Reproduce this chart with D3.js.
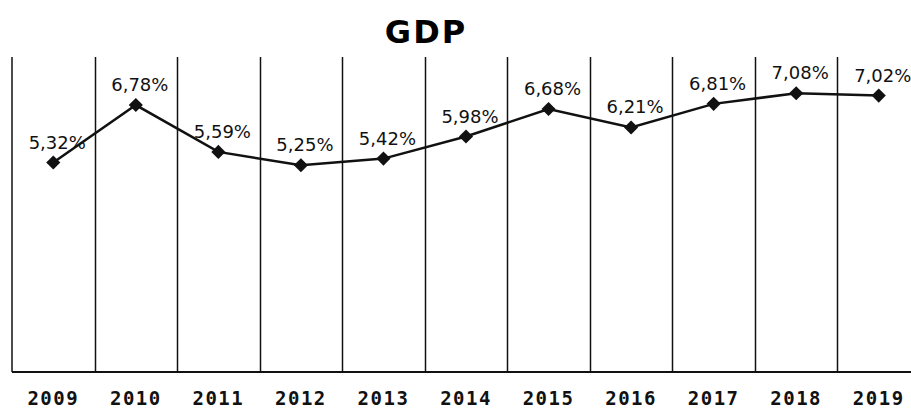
<!DOCTYPE html>
<html>
<head>
<meta charset="utf-8">
<script src="https://cdn.jsdelivr.net/npm/d3@7"></script>
<style>
  body { margin: 0; background: #fff; }
  svg { display: block; }
</style>
</head>
<body>
<svg id="chart" width="911" height="408"></svg>
<script>
const years = ["2009", "2010", "2011", "2012", "2013", "2014", "2015", "2016", "2017", "2018", "2019"];
const gdp = [5.32, 6.78, 5.59, 5.25, 5.42, 5.98, 6.68, 6.21, 6.81, 7.08, 7.02];
const labels = ["5,32%", "6,78%", "5,59%", "5,25%", "5,42%", "5,98%", "6,68%", "6,21%", "6,81%", "7,08%", "7,02%"];

const data = years.map((y, i) => ({ year: y, value: gdp[i], label: labels[i] }));

const svg = d3.select("#chart");
const width = 911, height = 408;
const margin = { top: 57, left: 12, bottom: 372, right: 920 };

const x = d3.scaleBand().domain(years).range([margin.left, margin.right]).padding(0);
const y = d3.scaleLinear().domain([0, 8]).range([margin.bottom, margin.top]);

// Title
svg.append("text")
  .attr("x", 426)
  .attr("y", 43)
  .attr("text-anchor", "middle")
  .style("font-family", "'DejaVu Sans', Verdana, sans-serif")
  .style("font-weight", "bold")
  .style("font-size", "32px")
  .style("letter-spacing", "2px")
  .text("GDP");

// Vertical grid lines at category boundaries
svg.append("g")
  .selectAll("line")
  .data(years.slice(1))
  .join("line")
  .attr("x1", d => Math.round(x(d)) + 0.5)
  .attr("x2", d => Math.round(x(d)) + 0.5)
  .attr("y1", margin.top)
  .attr("y2", margin.bottom)
  .attr("stroke", "#111")
  .attr("stroke-width", 1.5);

// Left axis line
svg.append("line")
  .attr("x1", margin.left).attr("x2", margin.left)
  .attr("y1", margin.top).attr("y2", margin.bottom)
  .attr("stroke", "#111").attr("stroke-width", 1.5);

// Bottom axis
const xAxis = svg.append("g")
  .attr("transform", `translate(0,${margin.bottom})`)
  .call(d3.axisBottom(x).tickSize(0).tickPadding(20));
xAxis.select(".domain").attr("stroke", "#111").attr("stroke-width", 2).attr("d", `M${margin.left},0H${width}`);
xAxis.selectAll("text")
  .attr("fill", "#111")
  .style("font-family", "'DejaVu Sans Mono', 'Liberation Mono', monospace")
  .style("font-weight", "bold")
  .style("font-size", "19px")
  .style("letter-spacing", "1.5px");

// Line
const line = d3.line()
  .x(d => x(d.year) + x.bandwidth() / 2)
  .y(d => y(d.value));

svg.append("path")
  .datum(data)
  .attr("d", line)
  .attr("fill", "none")
  .attr("stroke", "#111")
  .attr("stroke-width", 2.5);

// Diamond markers
svg.append("g")
  .selectAll("path")
  .data(data)
  .join("path")
  .attr("d", d3.symbol(d3.symbolSquare, 100))
  .attr("transform", d => `translate(${x(d.year) + x.bandwidth() / 2},${y(d.value)}) rotate(45)`)
  .attr("fill", "#111");

// Data labels
svg.append("g")
  .selectAll("text")
  .data(data)
  .join("text")
  .attr("x", d => x(d.year) + x.bandwidth() / 2 + 4)
  .attr("y", d => y(d.value) - 14)
  .attr("text-anchor", "middle")
  .attr("fill", "#111")
  .style("font-family", "'DejaVu Sans', Verdana, sans-serif")
  .style("font-size", "18px")
  .text(d => d.label);
</script>
</body>
</html>
